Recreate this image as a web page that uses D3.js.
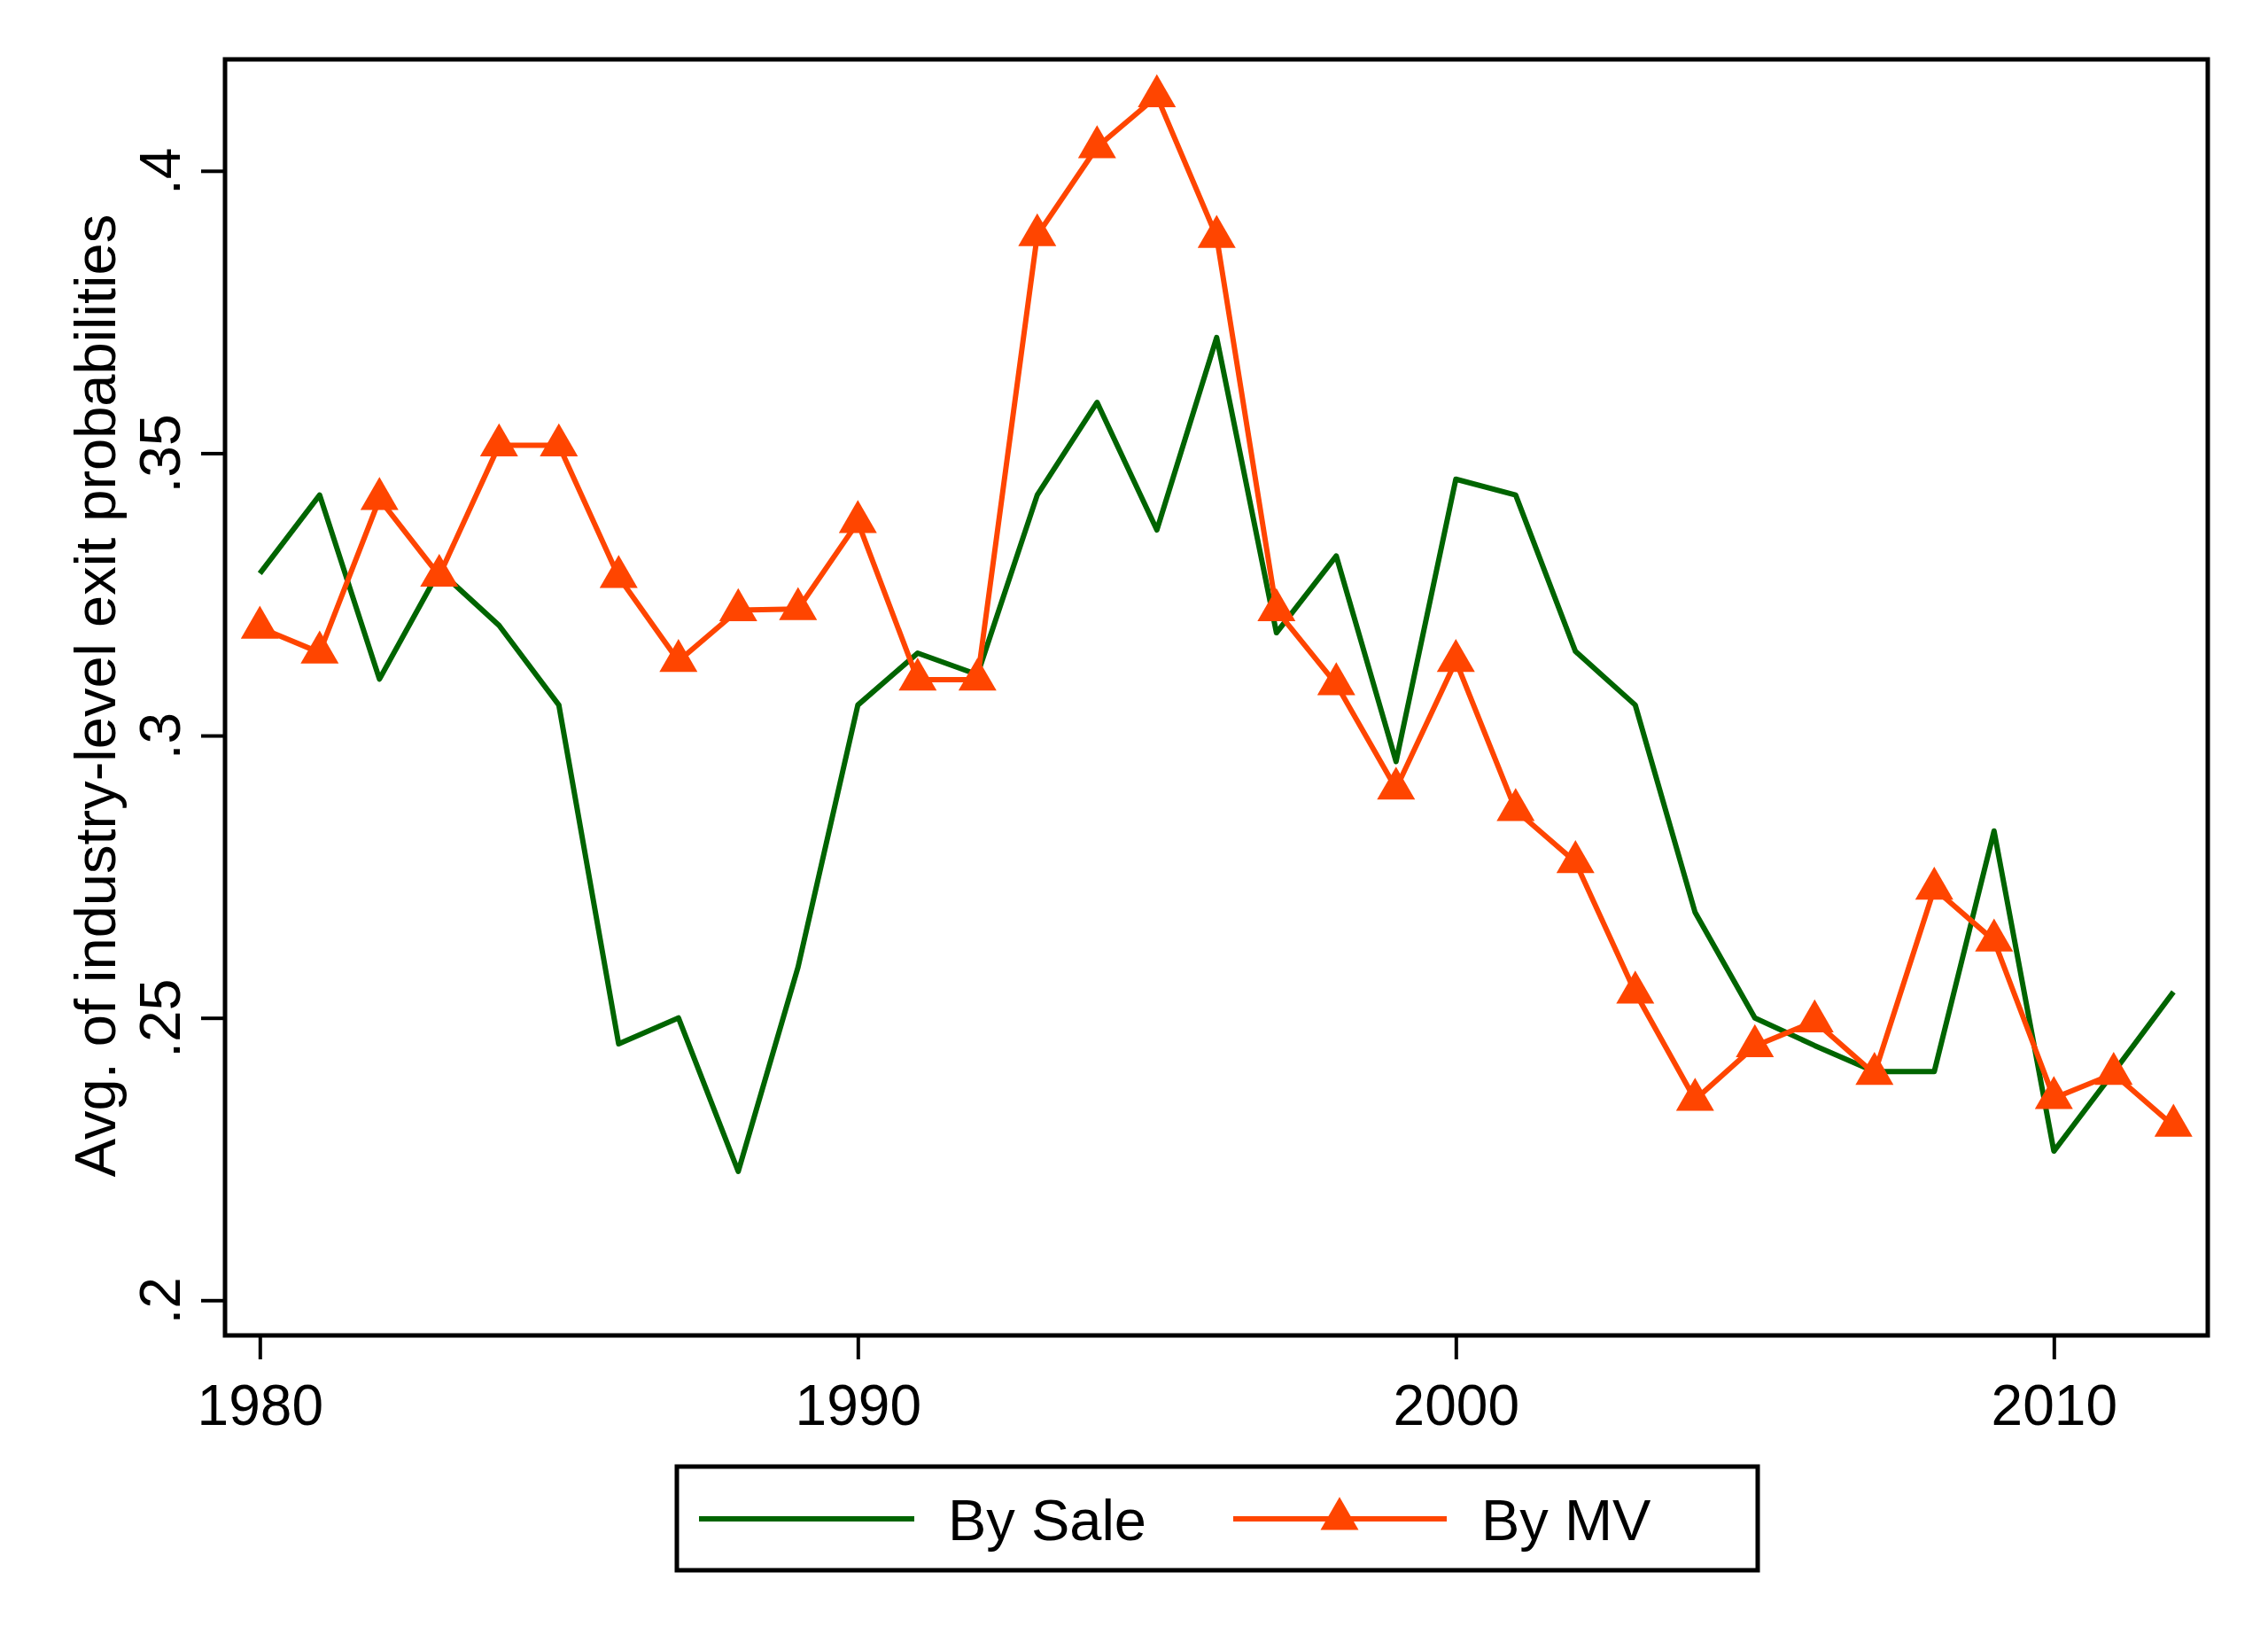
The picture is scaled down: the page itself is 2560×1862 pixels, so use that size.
<!DOCTYPE html>
<html>
<head>
<meta charset="utf-8">
<script src="https://cdn.jsdelivr.net/npm/d3@7"></script>
<style>
  body { margin: 0; background: #fff; }
  text { font-family: "Liberation Sans", Arial, Helvetica, sans-serif; fill: #000; }
</style>
</head>
<body>
<svg id="chart" width="2560" height="1862"></svg>
<script>
const years = d3.range(1980, 2013);
const bySale = [
  0.3287, 0.3426, 0.3100, 0.3292, 0.3195, 0.3054, 0.2454, 0.2500, 0.2228, 0.2590,
  0.3054, 0.3146, 0.3108, 0.3426, 0.3590, 0.3364, 0.3705, 0.3182, 0.3318, 0.2954,
  0.3454, 0.3426, 0.3149, 0.3054, 0.2687, 0.2500, 0.2451, 0.2405, 0.2405, 0.2831,
  0.2264, 0.2404, 0.2546,
];
const byMV = [
  0.3191, 0.3147, 0.3419, 0.3283, 0.3514, 0.3514, 0.3281, 0.3132, 0.3222, 0.3224,
  0.3378, 0.3099, 0.3099, 0.3886, 0.4042, 0.4132, 0.3883, 0.3222, 0.3091, 0.2906,
  0.3132, 0.2868, 0.2776, 0.2545, 0.2355, 0.2450, 0.2494, 0.2401, 0.2729, 0.2637,
  0.2358, 0.2401, 0.2309,
];
const xTicks = [1980, 1990, 2000, 2010];
const yTicks = [0.2, 0.25, 0.3, 0.35, 0.4];
const yTitle = "Avg. of industry-level exit probabilities";
const seriesNames = ["By Sale", "By MV"];

const GREEN = "#006400";
const ORANGE = "#ff4500";

const svg = d3.select("#chart");

// plot region (frame)
const frame = { left: 254, right: 2492, top: 67, bottom: 1507 };

const xScale = d3.scaleLinear().domain([1980, 2010]).range([293.3, 2318.3]);
const yScale = d3.scaleLinear().domain([0.2, 0.4]).range([1467.3, 192.8]);

// stata style labels: .25 instead of 0.25
const stataFmt = (d) => String(+d.toFixed(4)).replace(/^0\./, ".");

// y axis
const yAxis = svg
  .append("g")
  .attr("transform", `translate(${frame.left}, 0)`)
  .call(d3.axisLeft(yScale).tickValues(yTicks).tickSize(27).tickFormat(stataFmt));
yAxis.select(".domain").remove();
yAxis.selectAll(".tick line").attr("stroke", "#000").attr("stroke-width", 4);
yAxis
  .selectAll(".tick text")
  .attr("font-size", 64)
  .attr("text-anchor", "middle")
  .attr("x", 0)
  .attr("dy", 0)
  .attr("transform", "translate(-51, 0) rotate(-90)");

// x axis
const xAxis = svg
  .append("g")
  .attr("transform", `translate(0, ${frame.bottom})`)
  .call(d3.axisBottom(xScale).tickValues(xTicks).tickSize(27).tickFormat(d3.format("d")));
xAxis.select(".domain").remove();
xAxis.selectAll(".tick line").attr("stroke", "#000").attr("stroke-width", 4);
xAxis.selectAll(".tick text").attr("font-size", 64).attr("y", 101).attr("dy", 0);

// frame
svg
  .append("rect")
  .attr("x", frame.left)
  .attr("y", frame.top)
  .attr("width", frame.right - frame.left)
  .attr("height", frame.bottom - frame.top)
  .attr("fill", "none")
  .attr("stroke", "#000")
  .attr("stroke-width", 5);

// y title
svg
  .append("text")
  .attr("transform", "translate(130, 785) rotate(-90)")
  .attr("text-anchor", "middle")
  .attr("font-size", 65)
  .text(yTitle);

const line = d3
  .line()
  .x((d) => xScale(d.x))
  .y((d) => yScale(d.y));

const saleData = years.map((x, i) => ({ x, y: bySale[i] }));
const mvData = years.map((x, i) => ({ x, y: byMV[i] }));

svg
  .append("path")
  .datum(saleData)
  .attr("d", line)
  .attr("fill", "none")
  .attr("stroke", GREEN)
  .attr("stroke-width", 6)
  .attr("stroke-linejoin", "round");

svg
  .append("path")
  .datum(mvData)
  .attr("d", line)
  .attr("fill", "none")
  .attr("stroke", ORANGE)
  .attr("stroke-width", 6)
  .attr("stroke-linejoin", "round");

const tri = d3.symbol(d3.symbolTriangle, 800);
svg
  .selectAll(".mv-marker")
  .data(mvData)
  .enter()
  .append("path")
  .attr("class", "mv-marker")
  .attr("d", tri)
  .attr("fill", ORANGE)
  .attr("transform", (d) => `translate(${xScale(d.x)}, ${yScale(d.y)})`);

// legend
const legend = svg.append("g");
legend
  .append("rect")
  .attr("x", 764)
  .attr("y", 1655)
  .attr("width", 1984 - 764)
  .attr("height", 1772 - 1655)
  .attr("fill", "none")
  .attr("stroke", "#000")
  .attr("stroke-width", 5);

legend
  .append("line")
  .attr("x1", 789)
  .attr("x2", 1032)
  .attr("y1", 1714)
  .attr("y2", 1714)
  .attr("stroke", GREEN)
  .attr("stroke-width", 6);
legend
  .append("text")
  .attr("x", 1070)
  .attr("y", 1738)
  .attr("font-size", 65)
  .text(seriesNames[0]);

legend
  .append("line")
  .attr("x1", 1392)
  .attr("x2", 1633)
  .attr("y1", 1714)
  .attr("y2", 1714)
  .attr("stroke", ORANGE)
  .attr("stroke-width", 6);
legend
  .append("path")
  .attr("d", tri)
  .attr("fill", ORANGE)
  .attr("transform", "translate(1512, 1714)");
legend
  .append("text")
  .attr("x", 1672)
  .attr("y", 1738)
  .attr("font-size", 65)
  .text(seriesNames[1]);
</script>
</body>
</html>
